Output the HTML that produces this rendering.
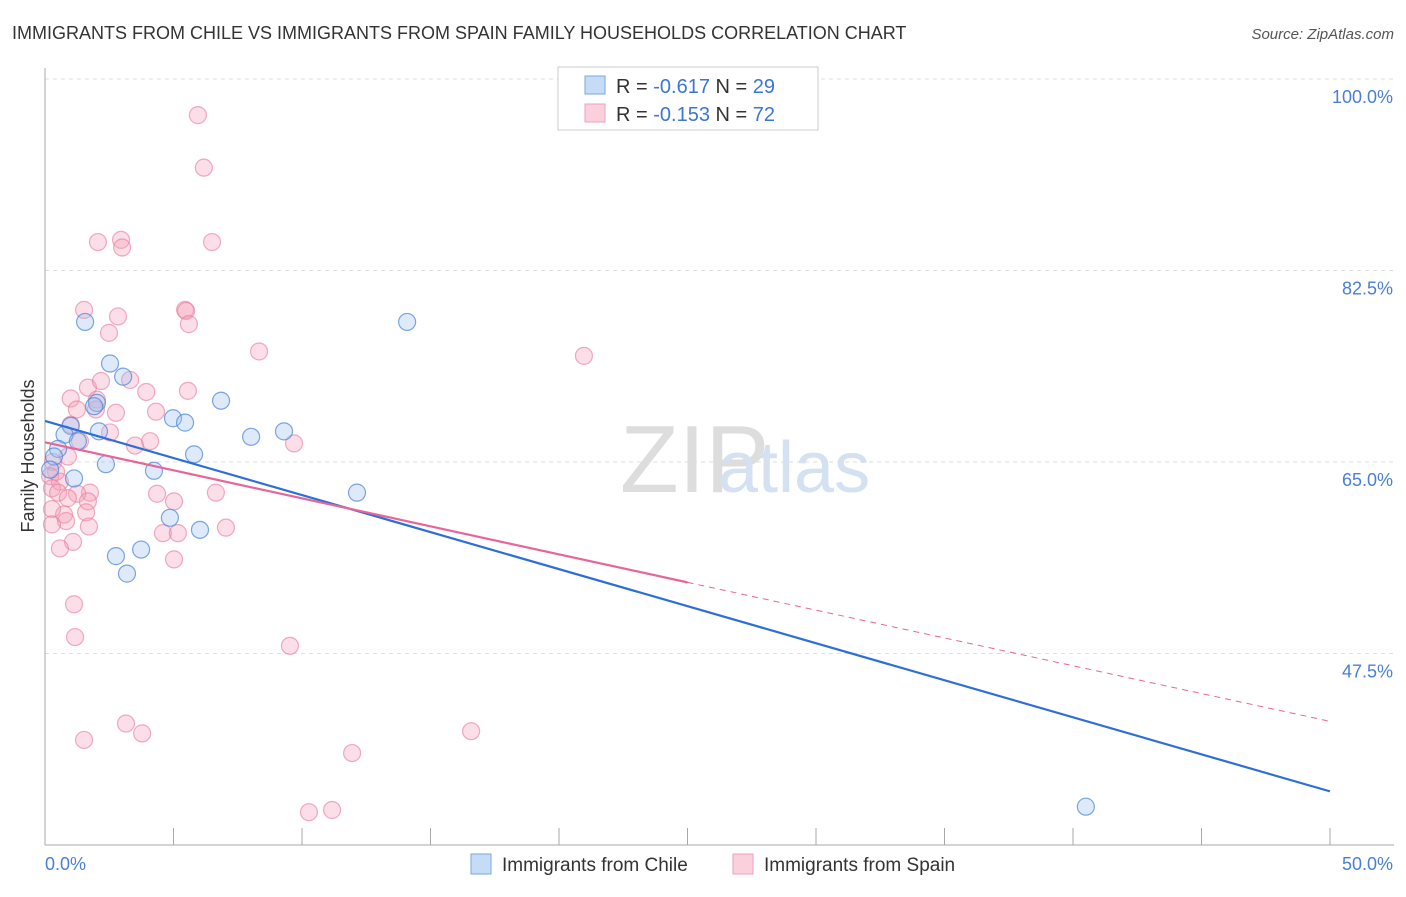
<!DOCTYPE html>
<html><head><meta charset="utf-8"><style>
body{margin:0;background:#fff;font-family:"Liberation Sans",sans-serif}
svg text{font-family:"Liberation Sans",sans-serif}
</style></head><body>
<svg id="chart" width="1406" height="892">
<text x="12" y="39" font-size="18" fill="#333">IMMIGRANTS FROM CHILE VS IMMIGRANTS FROM SPAIN FAMILY HOUSEHOLDS CORRELATION CHART</text>
<text x="1394" y="39" font-size="15" fill="#555" font-style="italic" text-anchor="end">Source: ZipAtlas.com</text>
<text x="620" y="492" font-size="96" fill="#ddd" font-family="Liberation Serif">ZIP</text>
<text x="718" y="492" font-size="72" fill="#d3e1f2">atlas</text>
<g id="grid"></g>
<g id="axes"></g>
<g id="points"></g>
<g id="lines"></g>
<text transform="translate(34,456) rotate(-90)" font-size="18" fill="#333" text-anchor="middle">Family Households</text>
<text x="45" y="870" font-size="18" fill="#4a7fd4">0.0%</text>
<text x="1393" y="870" font-size="18" fill="#4a7fd4" text-anchor="end">50.0%</text>
<g>
<rect x="558" y="67" width="260" height="63" fill="#fff" stroke="#ccc"/>
<rect x="585" y="76" width="20" height="18" fill="#c5dcf7" stroke="#7aa6e0"/>
<rect x="585" y="104" width="20" height="18" fill="#fbd0dd" stroke="#eda0b8"/>
<text x="616" y="93" font-size="20" fill="#333">R = <tspan fill="#3a76d6">-0.617</tspan>   N = <tspan fill="#3a76d6">29</tspan></text>
<text x="616" y="121" font-size="20" fill="#333">R = <tspan fill="#3a76d6">-0.153</tspan>   N = <tspan fill="#3a76d6">72</tspan></text>
</g>
<g>
<rect x="471" y="854" width="20" height="20" fill="#c5dcf7" stroke="#7aa6e0"/>
<text x="502" y="871" font-size="19" fill="#333">Immigrants from Chile</text>
<rect x="733" y="854" width="20" height="20" fill="#fbd0dd" stroke="#eda0b8"/>
<text x="764" y="871" font-size="19" fill="#333">Immigrants from Spain</text>
</g>
</svg>
<script>
const yTicks=[100,82.5,65,47.5];
const yTickLabels=["100.0%","82.5%","65.0%","47.5%"];
const xTicks=[0,5,10,15,20,25,30,35,40,45,50];
const chileX=[1.56,2.53,3.04,2.02,1.91,6.85,4.98,5.45,2.10,1.0,0.76,1.28,8.02,9.30,5.80,0.51,0.35,2.37,4.24,1.13,12.14,14.09,4.86,6.03,2.76,3.74,3.19,40.5,0.2];
const chileY=[77.8,74.0,72.8,70.4,70.1,70.6,69.0,68.6,67.8,68.3,67.5,66.9,67.3,67.8,65.7,66.2,65.5,64.8,64.2,63.5,62.2,77.8,59.9,58.8,56.4,57.0,54.8,33.5,64.3];
const spainX=[5.95,6.18,2.06,2.96,3.0,6.5,1.52,2.84,5.45,5.49,5.6,2.49,8.33,20.97,3.31,1.67,3.94,5.56,2.18,1.0,1.24,2.02,1.98,2.76,4.32,1.0,2.53,4.09,3.5,9.69,1.36,0.89,0.31,0.43,0.2,0.58,0.27,0.51,1.75,1.25,4.36,6.65,5.02,0.89,1.67,0.74,0.27,1.6,0.82,0.27,1.71,7.04,4.59,5.17,1.09,0.58,5.02,1.13,1.17,9.53,3.15,3.78,1.52,16.58,11.95,10.27,11.17];
const spainY=[96.7,91.9,85.1,85.3,84.6,85.1,78.9,78.3,78.9,78.8,77.6,76.8,75.1,74.7,72.5,71.8,71.4,71.5,72.4,70.8,69.8,70.7,69.8,69.5,69.6,68.4,67.7,66.9,66.5,66.7,66.9,65.5,65.0,64.1,63.7,63.2,62.6,62.2,62.2,62.1,62.1,62.2,61.4,61.7,61.4,60.2,60.7,60.4,59.6,59.3,59.1,59.0,58.5,58.5,57.7,57.1,56.1,52.0,49.0,48.2,41.1,40.2,39.6,40.4,38.4,33.0,33.2];
const chileLine=[[0,68.75],[50,34.9]];
const spainLine=[[0,66.8],[25,54.0],[50,41.3]];
const NS="http://www.w3.org/2000/svg";
const xs=v=>45+v/50*1285;
const ys=v=>79+(100-v)/17.5*191.5;
function mk(t,a,p){const e=document.createElementNS(NS,t);for(const k in a)e.setAttribute(k,a[k]);p.appendChild(e);return e;}
const grid=document.getElementById('grid'),axes=document.getElementById('axes'),pts=document.getElementById('points'),lines=document.getElementById('lines');
yTicks.forEach((v,i)=>{
 const l=mk('line',{x1:45,x2:1394,y1:ys(v),y2:ys(v),stroke:'#ddd','stroke-dasharray':'4,4'},grid);
 
 
 const t=mk('text',{x:1393,y:ys(v)+24,'font-size':18,fill:'#4a7fd4','text-anchor':'end'},grid);
 t.textContent=yTickLabels[i];
 
 
});
const ya=mk('line',{x1:45,x2:45,y1:68,y2:845,stroke:'#aaa'},axes);


const xa=mk('line',{x1:45,x2:1394,y1:845,y2:845,stroke:'#aaa'},axes);


xTicks.forEach(v=>{
 const l=mk('line',{x1:xs(v),x2:xs(v),y1:828,y2:845,stroke:'#aaa'},axes);
 
 
});
spainX.forEach((x,i)=>{
 const c=mk('circle',{cx:xs(x),cy:ys(spainY[i]),r:8.5,fill:'rgba(244,160,186,0.35)',stroke:'rgba(232,120,155,0.6)','stroke-width':1.2},pts);
 
 
});
chileX.forEach((x,i)=>{
 const c=mk('circle',{cx:xs(x),cy:ys(chileY[i]),r:8.5,fill:'rgba(160,196,240,0.35)',stroke:'rgba(70,130,215,0.7)','stroke-width':1.2},pts);
 
 
});
const bl=mk('line',{x1:xs(chileLine[0][0]),y1:ys(chileLine[0][1]),x2:xs(chileLine[1][0]),y2:ys(chileLine[1][1]),stroke:'#2d6fd6','stroke-width':2.2},lines);


const pl=mk('line',{x1:xs(spainLine[0][0]),y1:ys(spainLine[0][1]),x2:xs(spainLine[1][0]),y2:ys(spainLine[1][1]),stroke:'#e8659a','stroke-width':2.2},lines);


const pd=mk('line',{x1:xs(spainLine[1][0]),y1:ys(spainLine[1][1]),x2:xs(spainLine[2][0]),y2:ys(spainLine[2][1]),stroke:'#e8659a','stroke-width':1,'stroke-dasharray':'6,5'},lines);


</script>
</body></html>
